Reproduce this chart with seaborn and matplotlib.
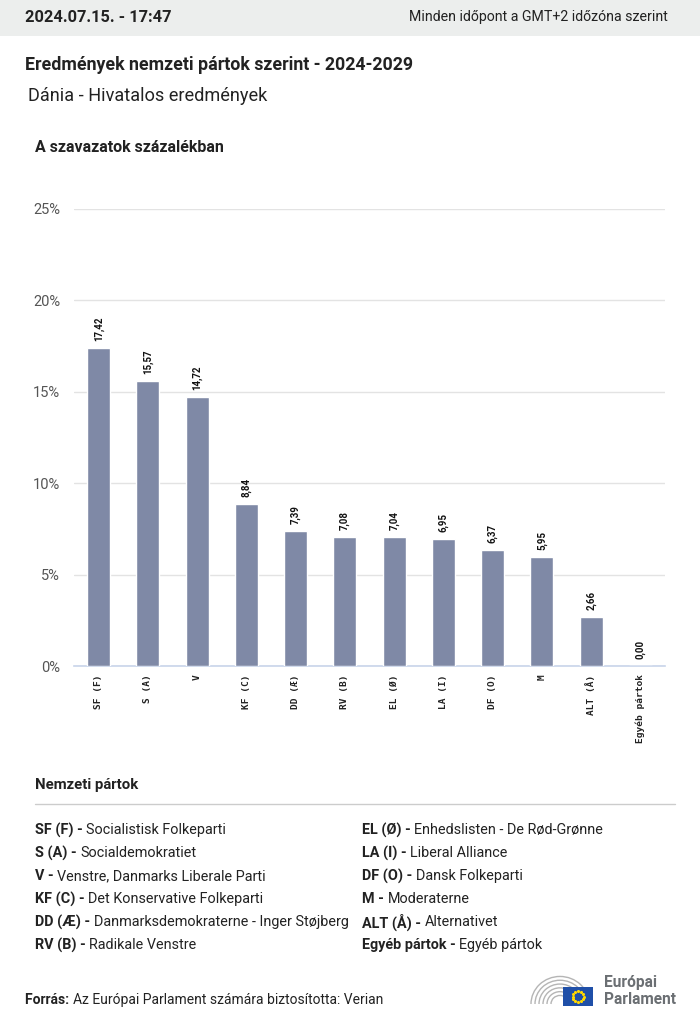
import matplotlib
matplotlib.use("Agg")
import matplotlib.pyplot as plt
import seaborn as sns
import pandas as pd
import numpy as np
from matplotlib.patches import Rectangle, Arc

parties = ["SF (F)", "S (A)", "V", "KF (C)", "DD (Æ)", "RV (B)", "EL (Ø)", "LA (I)",
           "DF (O)", "M", "ALT (Å)", "Egyéb pártok"]
values = [17.42, 15.57, 14.72, 8.84, 7.39, 7.08, 7.04, 6.95, 6.37, 5.95, 2.66, 0.00]
yticks = [0, 5, 10, 15, 20, 25]

legend_left = [("SF (F)", "Socialistisk Folkeparti"),
               ("S (A)", "Socialdemokratiet"),
               ("V", "Venstre, Danmarks Liberale Parti"),
               ("KF (C)", "Det Konservative Folkeparti"),
               ("DD (Æ)", "Danmarksdemokraterne - Inger Støjberg"),
               ("RV (B)", "Radikale Venstre")]
legend_right = [("EL (Ø)", "Enhedslisten - De Rød-Grønne"),
                ("LA (I)", "Liberal Alliance"),
                ("DF (O)", "Dansk Folkeparti"),
                ("M", "Moderaterne"),
                ("ALT (Å)", "Alternativet"),
                ("Egyéb pártok", "Egyéb pártok")]

sns.set_theme(style="white")
plt.rcParams['font.family'] = ['Roboto', 'DejaVu Sans']

W, H = 700, 1026
fig = plt.figure(figsize=(W / 100, H / 100), dpi=100)

def fx(x): return x / W
def fy(y): return 1 - y / H

# header band
fig.patches.append(Rectangle((0, fy(36)), 1, 36 / H, transform=fig.transFigure,
                             facecolor="#eceeed", edgecolor="none", zorder=0))
fig.text(fx(25), fy(17), "2024.07.15. - 17:47", fontsize=11.8, fontweight="bold",
         va="center", ha="left", color="#222222")
fig.text(fx(668), fy(17), "Minden időpont a GMT+2 időzóna szerint", fontsize=10.2,
         va="center", ha="right", color="#222222")

fig.text(fx(25), fy(65), "Eredmények nemzeti pártok szerint - 2024-2029", fontsize=12.8,
         fontweight="bold", va="center", ha="left", color="#222222")
fig.text(fx(28), fy(96), "Dánia - Hivatalos eredmények", fontsize=13.1,
         va="center", ha="left", color="#222222")
fig.text(fx(35), fy(147), "A szavazatok százalékban", fontsize=11.5, fontweight="bold",
         va="center", ha="left", color="#222222")

# axes
ax_l, ax_r, ax_t, ax_b = 74, 665, 209, 666
ax = fig.add_axes([fx(ax_l), fy(ax_b), (ax_r - ax_l) / W, (ax_b - ax_t) / H])
df = pd.DataFrame({"party": parties, "value": values})
sns.barplot(data=df, x="party", y="value", color="#7f89a6", saturation=1,
            width=0.47, ax=ax, zorder=3)
ax.set_ylim(0, 25)
ax.set_xlim(-0.5, len(parties) - 0.5)
ax.set_yticks(yticks)
ax.set_yticklabels([f"{t}%" for t in yticks], fontsize=10.5, color="#555555")
ax.yaxis.grid(True, color="#e3e3e3", linewidth=1, zorder=0)
ax.set_axisbelow(True)
for s in ["top", "right", "left"]:
    ax.spines[s].set_visible(False)
ax.spines["bottom"].set_color("#c8d4ea")
ax.spines["bottom"].set_linewidth(1.2)
ax.tick_params(axis="y", length=0, pad=10)
ax.tick_params(axis="x", length=0, pad=6)
ax.set_xticks(range(len(parties)))
ax.set_xticklabels(parties, rotation=90, fontsize=6.8, fontweight="bold",
                   family="DejaVu Sans Mono", color="#222222", va="top")
ax.set_xlabel("")
ax.set_ylabel("")
for i, v in enumerate(values):
    ax.annotate(f"{v:.2f}".replace(".", ","), (i, v), xytext=(0, 5),
                textcoords="offset points", rotation=90, ha="center", va="bottom",
                fontsize=7, fontweight="bold", color="#111111")

# legend section
fig.text(fx(35), fy(785), "Nemzeti pártok", fontsize=10.7, fontweight="bold",
         va="center", ha="left", color="#222222")
fig.add_artist(plt.Line2D([fx(35), fx(675)], [fy(804), fy(804)], color="#cccccc",
                          linewidth=1, transform=fig.transFigure))
rows_y = [830, 853, 876, 899, 922, 945]

renderer = fig.canvas.get_renderer()
for col_x, entries in [(35, legend_left), (362, legend_right)]:
    for y, (abbr, name) in zip(rows_y, entries):
        t = fig.text(fx(col_x), fy(y), abbr + " - ", fontsize=10.4, fontweight="bold",
                     va="center", ha="left", color="#222222")
        bb = t.get_window_extent(renderer=renderer)
        fig.text(bb.x1 / fig.dpi / fig.get_figwidth(), fy(y), name, fontsize=10.4,
                 va="center", ha="left", color="#222222")

# footer
t = fig.text(fx(25), fy(1000), "Forrás: ", fontsize=10, fontweight="bold",
             va="center", ha="left", color="#222222")
bb = t.get_window_extent(renderer=renderer)
fig.text(bb.x1 / fig.dpi / fig.get_figwidth(), fy(1000),
         "Az Európai Parlament számára biztosította: Verian", fontsize=10,
         va="center", ha="left", color="#222222")

# logo
lax = fig.add_axes([fx(528), fy(1008), 68 / W, 40 / H])
lax.set_xlim(0, 68)
lax.set_ylim(0, 40)
lax.axis("off")
for r in [9, 13, 17, 21, 25, 29]:
    lax.add_patch(Arc((32, 4), 2 * r, 1.9 * r, theta1=0, theta2=180,
                      color="#b5b5b5", linewidth=1.0))
lax.add_patch(Rectangle((35, 2), 30, 19, facecolor="#1f4fa8", edgecolor="none", zorder=4))
ang = np.linspace(0, 2 * np.pi, 12, endpoint=False)
lax.scatter(50 + 5.5 * np.cos(ang), 11.5 + 5.5 * np.sin(ang), s=1.5, color="#ffd800", zorder=5)
fig.text(fx(604), fy(983), "Európai", fontsize=11.2, fontweight="bold", color="#6b6f73",
         va="center", ha="left")
fig.text(fx(604), fy(999), "Parlament", fontsize=11.2, fontweight="bold", color="#6b6f73",
         va="center", ha="left")

fig.savefig("out.png", dpi=100)
